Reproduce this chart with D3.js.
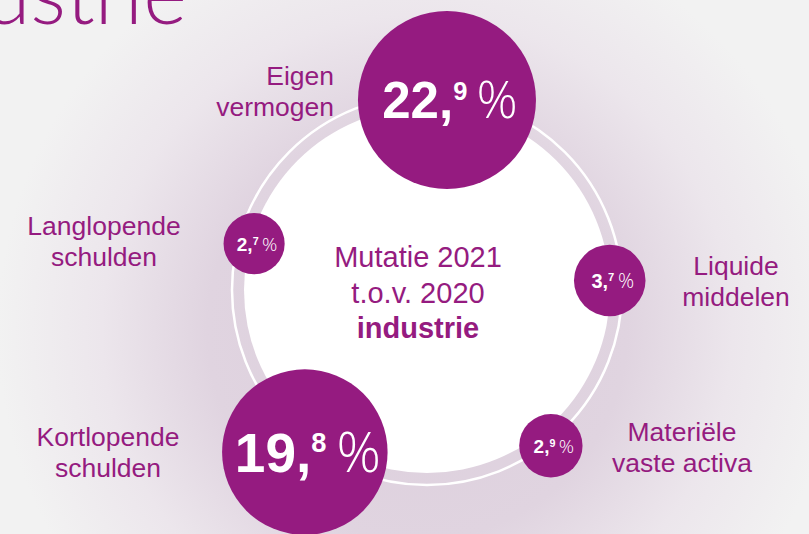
<!DOCTYPE html>
<html>
<head>
<meta charset="utf-8">
<script src="https://cdn.jsdelivr.net/npm/d3@7"></script>
<style>
  html, body { margin: 0; padding: 0; background: #f1f1f1; }
  svg { display: block; }
  text { font-family: "Liberation Sans", Arial, sans-serif; }
</style>
</head>
<body>
<div id="chart"></div>
<script>
// data
var categories = ['Eigen vermogen', 'Liquide middelen', 'Materiële vaste activa', 'Kortlopende schulden', 'Langlopende schulden'];
var labelLines = [['Eigen', 'vermogen'], ['Liquide', 'middelen'], ['Materiële', 'vaste activa'], ['Kortlopende', 'schulden'], ['Langlopende', 'schulden']];
var values = [22.9, 3.7, 2.9, 19.8, 2.7];
var centerLines = ['Mutatie 2021', 't.o.v. 2020', 'industrie'];

// layout (angle clockwise from top, distance from ring centre, label spot)
var layout = [
  {angle: 6,     dist: 191, font: 51, lx: 334, ly: 85,  anchor: 'end'},
  {angle: 87,    dist: 183, font: 20, lx: 736, ly: 275, anchor: 'middle'},
  {angle: 141.5, dist: 199, font: 19, lx: 682, ly: 441, anchor: 'middle'},
  {angle: 217,   dist: 203, font: 55, lx: 108, ly: 446, anchor: 'middle'},
  {angle: 285,   dist: 179, font: 19, lx: 104, ly: 235, anchor: 'middle'}
];

var width = 809, height = 534,
    cx = 427, cy = 290,
    purple = '#951b80';

var svg = d3.select('#chart').append('svg')
  .attr('width', width)
  .attr('height', height);

var defs = svg.append('defs');
var glow = defs.append('radialGradient')
  .attr('id', 'glow')
  .attr('gradientUnits', 'userSpaceOnUse')
  .attr('cx', cx - 10).attr('cy', cy + 40).attr('r', 420);
glow.append('stop').attr('offset', '0').attr('stop-color', '#dccedc');
glow.append('stop').attr('offset', '0.5').attr('stop-color', '#e0d4e0');
glow.append('stop').attr('offset', '0.75').attr('stop-color', '#ece6ec');
glow.append('stop').attr('offset', '1').attr('stop-color', '#f2f2f2');

svg.append('rect')
  .attr('width', width).attr('height', height)
  .attr('fill', '#f2f2f2');
svg.append('rect')
  .attr('width', width).attr('height', height)
  .attr('fill', 'url(#glow)');

// cut-off title at the top
svg.append('text')
  .attr('x', 187).attr('y', 24)
  .attr('text-anchor', 'end')
  .style('font-family', 'Lato, Roboto, sans-serif')
  .style('font-weight', 300)
  .style('font-size', '84px')
  .attr('fill', purple)
  .text('industrie');

// ring
svg.append('circle')
  .attr('cx', cx).attr('cy', cy).attr('r', 195)
  .attr('fill', 'none')
  .attr('stroke', '#fff')
  .attr('stroke-width', 2.5);
svg.append('circle')
  .attr('cx', cx).attr('cy', cy).attr('r', 183)
  .attr('fill', '#fff');

var center = svg.append('text')
  .attr('text-anchor', 'middle')
  .attr('fill', purple)
  .style('font-size', '29px');
center.selectAll('tspan')
  .data(centerLines)
  .enter().append('tspan')
  .attr('x', 418)
  .attr('y', function (d, i) { return 267 + i * 35.5; })
  .style('font-weight', function (d, i) { return i == 2 ? 'bold' : 'normal'; })
  .text(function (d) { return d; });

var r = d3.scaleSqrt().domain([0, d3.max(values)]).range([0, 89]);

var items = values.map(function (v, i) {
  var a = layout[i].angle * Math.PI / 180;
  return {
    name: categories[i],
    lines: labelLines[i],
    value: v,
    x: cx + layout[i].dist * Math.sin(a),
    y: cy - layout[i].dist * Math.cos(a),
    l: layout[i]
  };
});

var bubble = svg.selectAll('.bubble')
  .data(items)
  .enter().append('g')
  .attr('class', 'bubble');

bubble.append('circle')
  .attr('cx', function (d) { return d.x; })
  .attr('cy', function (d) { return d.y; })
  .attr('r', function (d) { return r(d.value); })
  .attr('fill', purple);

function supSize(d) { return d.l.font * 0.46 + 2; }

var val = bubble.append('text')
  .attr('x', function (d) { return d.x + 3; })
  .attr('y', function (d) { return d.y + d.l.font * 0.36; })
  .attr('text-anchor', 'middle')
  .attr('fill', '#fff')
  .style('font-size', function (d) { return d.l.font + 'px'; });

val.append('tspan')
  .style('font-weight', 'bold')
  .text(function (d) { return Math.floor(d.value) + ','; });
val.append('tspan')
  .style('font-weight', 'bold')
  .style('font-size', function (d) { return supSize(d) + 'px'; })
  .attr('dy', function (d) { return -(d.l.font * 0.716 - supSize(d) * 0.716); })
  .text(function (d) { return Math.round(d.value * 10) % 10; });
val.append('tspan')
  .style('font-family', '"Open Sans", Roboto, sans-serif')
  .style('font-weight', 300)
  .attr('dx', function (d) { return d.l.font * 0.18; })
  .attr('dy', function (d) { return d.l.font * 0.716 - supSize(d) * 0.716; })
  .text('%');

var label = bubble.append('text')
  .attr('text-anchor', function (d) { return d.l.anchor; })
  .attr('fill', purple)
  .style('font-size', '26.5px');
label.selectAll('tspan')
  .data(function (d) { return d.lines.map(function (s, i) { return {s: s, i: i, l: d.l}; }); })
  .enter().append('tspan')
  .attr('x', function (d) { return d.l.lx; })
  .attr('y', function (d) { return d.l.ly + d.i * 31; })
  .text(function (d) { return d.s; });
</script>
</body>
</html>
